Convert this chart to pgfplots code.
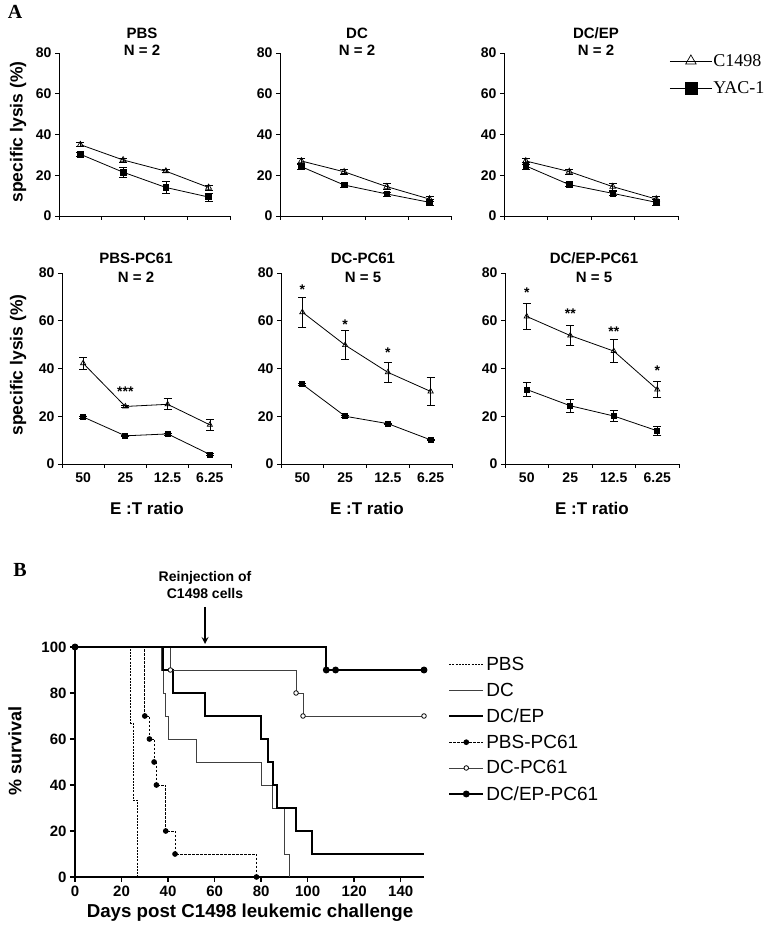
\documentclass[border=0pt]{standalone}
\usepackage{fontspec}
\setmainfont{Liberation Sans}
\newfontfamily\timesfont{Liberation Serif}
\usepackage{pgfplots}
\pgfplotsset{compat=1.18}
\newcommand\fs[1]{\fontsize{#1}{#1}\selectfont}
\pgfplotsset{
 lysis/.style={scale only axis, axis lines*=left, xmin=0, xmax=4, ymin=0, ymax=80,
   ytick={0,20,40,60,80}, xtick={0,1,2,3,4}, xticklabels={}, tick align=outside,
   major tick length=4pt, tick style={black, line width=0.7pt},
   axis line style={black, line width=0.8pt},
   /pgf/number format/assume math mode=true,
   yticklabel style={font=\bfseries\fs{14}},
   xticklabel style={font=\bfseries\fs{14}}, clip=false},
 ratio/.style={extra x ticks={0.5,1.5,2.5,3.5}, extra x tick labels={50,25,12.5,6.25},
   extra x tick style={major tick length=0pt, xticklabel style={yshift=-5pt}}},
 cA/.style={black, line width=0.8pt, mark=triangle, mark size=3.4pt,
   mark options={solid, fill=white, line width=0.7pt},
   error bars/.cd, y dir=both, y explicit, error bar style={line width=0.7pt},
   error mark options={rotate=90, mark size=4pt, line width=0.7pt}, /pgfplots/.cd},
 yA/.style={black, line width=0.8pt, mark=square*, mark size=2.8pt,
   mark options={solid},
   error bars/.cd, y dir=both, y explicit, error bar style={line width=0.7pt},
   error mark options={rotate=90, mark size=4pt, line width=0.7pt}, /pgfplots/.cd},
 km/.style={const plot mark left, black},
}
\begin{document}
\begin{tikzpicture}[x=1pt,y=1pt]
\useasboundingbox (0,0) rectangle (765,935);
% ---------- Panel A top row
\begin{axis}[lysis, at={(59pt,719pt)}, anchor=south west, width=171pt, height=163pt]
\addplot[cA] coordinates {(0.5,35) +- (0,1) (1.5,27.5) +- (0,1) (2.5,22) +- (0,0.8) (3.5,14) +- (0,1.2)};
\addplot[yA] coordinates {(0.5,30.3) +- (0,1) (1.5,21.5) +- (0,2.5) (2.5,14) +- (0,3) (3.5,9.3) +- (0,2)};
\end{axis}
\begin{axis}[lysis, at={(280pt,719pt)}, anchor=south west, width=171pt, height=163pt]
\addplot[cA] coordinates {(0.5,27) +- (0,1.5) (1.5,21.7) +- (0,1.2) (2.5,14.4) +- (0,1.5) (3.5,8.3) +- (0,1.3)};
\addplot[yA] coordinates {(0.5,24.2) +- (0,1.5) (1.5,15.2) +- (0,1) (2.5,10.8) +- (0,1) (3.5,6.7) +- (0,1.5)};
\end{axis}
\begin{axis}[lysis, at={(504pt,719pt)}, anchor=south west, width=174pt, height=163pt,
  legend style={at={(rel axis cs:0.95,1.0)}, anchor=north west, draw=none, fill=none,
  font=\timesfont\fs{18}, row sep=12pt, inner sep=0pt, nodes={inner sep=1pt}},
  legend cell align=left,
  legend image code/.code={\draw[#1, mark size=6pt, mark repeat=2, mark phase=2] plot coordinates {(0pt,0pt) (21pt,0pt) (42pt,0pt)};}]
\addplot[cA] coordinates {(0.5,27) +- (0,1.5) (1.5,21.8) +- (0,1.2) (2.5,14.4) +- (0,1.8) (3.5,8.3) +- (0,1.3)};
\addlegendentry{C1498}
\addplot[yA] coordinates {(0.5,24.6) +- (0,1.5) (1.5,15.4) +- (0,1) (2.5,11.1) +- (0,1) (3.5,6.7) +- (0,1.5)};
\addlegendentry{YAC-1}
\end{axis}
% ---------- Panel A bottom row
\begin{axis}[lysis, ratio, at={(62pt,471pt)}, anchor=south west, width=169pt, height=191pt]
\addplot[cA, mark size=3pt] coordinates {(0.5,42.2) +- (0,2.6) (1.5,24.1) +- (0,0.5) (2.5,25) +- (0,2.3) (3.5,16.4) +- (0,2.4)};
\addplot[yA, mark size=2.5pt] coordinates {(0.5,19.7) +- (0,0.4) (1.5,11.8) +- (0,0.4) (2.5,12.6) +- (0,0.4) (3.5,4) +- (0,0.4)};
\node[font=\bfseries\fs{14}] at (axis cs:1.5,30.3) {***};
\end{axis}
\begin{axis}[lysis, ratio, at={(281pt,471pt)}, anchor=south west, width=171pt, height=191pt]
\addplot[cA, mark size=3pt] coordinates {(0.5,63.6) +- (0,6.4) (1.5,49.8) +- (0,6) (2.5,38.4) +- (0,4.3) (3.5,30.4) +- (0,5.7)};
\addplot[yA, mark size=2.5pt] coordinates {(0.5,33.4) +- (0,0.3) (1.5,20) +- (0,0.3) (2.5,16.9) +- (0,0.3) (3.5,10.1) +- (0,0.3)};
\node[font=\bfseries\fs{14}] at (axis cs:0.5,73.2) {*};
\node[font=\bfseries\fs{14}] at (axis cs:1.5,58.3) {*};
\node[font=\bfseries\fs{14}] at (axis cs:2.5,46.5) {*};
\end{axis}
\begin{axis}[lysis, ratio, at={(505pt,471pt)}, anchor=south west, width=174pt, height=191pt]
\addplot[cA, mark size=3pt] coordinates {(0.5,61.8) +- (0,5.6) (1.5,53.8) +- (0,4.3) (2.5,47.3) +- (0,4.9) (3.5,31.2) +- (0,3.4)};
\addplot[yA, mark size=2.5pt] coordinates {(0.5,31.2) +- (0,2.8) (1.5,24.4) +- (0,2.7) (2.5,20.1) +- (0,2.4) (3.5,13.9) +- (0,1.9)};
\node[font=\bfseries\fs{14}] at (axis cs:0.5,71.7) {*};
\node[font=\bfseries\fs{14}] at (axis cs:1.5,63.1) {**};
\node[font=\bfseries\fs{14}] at (axis cs:2.5,55.6) {**};
\node[font=\bfseries\fs{14}] at (axis cs:3.5,39.1) {*};
\end{axis}
% ---------- Panel B
\begin{axis}[at={(75pt,58pt)}, anchor=south west, scale only axis, width=349pt, height=230pt,
  axis lines*=left, xmin=0, xmax=150, ymin=0, ymax=100, xtick={0,20,...,140}, ytick={0,20,...,100},
  tick align=outside, major tick length=5pt, tick style={black, line width=1.5pt},
  axis line style={black, line width=2pt},
  /pgf/number format/assume math mode=true,
  ticklabel style={font=\bfseries\fs{15}}, clip=false,
  legend style={at={(rel axis cs:1.069,0.966)}, anchor=north west, draw=none, fill=none,
  font=\fs{19}, row sep=7pt, inner sep=0pt},
  legend cell align=left,
  legend image code/.code={\draw[#1, mark repeat=2, mark phase=2] plot coordinates {(0pt,0pt) (17pt,0pt) (34pt,0pt)};}]
\addplot[km, line width=0.7pt, dash pattern=on 2pt off 1.2pt] coordinates {(0,100) (24,66.7) (25,33.3) (27,0)};
\addlegendentry{PBS}
\addplot[km, line width=0.8pt, black!75] coordinates {(0,100) (37,90) (38,80) (39,70) (40,60) (52,50) (80,40) (85,30) (90,10) (92,0)};
\addlegendentry{DC}
\addplot[km, line width=2pt] coordinates {(0,100) (38,90) (42,80) (56,70) (80,60) (83,50) (85,40) (87,30) (95,20) (102,10) (150,10)};
\addlegendentry{DC/EP}
\addplot[km, line width=0.8pt, dash pattern=on 2.5pt off 1.5pt, mark=*, mark size=2.4pt, mark options={solid}] coordinates {(0,100) (30,70) (32,60) (34,50) (35,40) (39,20) (43,10) (78,0)};
\addlegendentry{PBS-PC61}
\addplot[km, line width=0.8pt, black!75, mark=*, mark size=2.3pt, mark options={solid, fill=white, draw=black}] coordinates {(0,100) (41,90) (95,80) (98,70) (150,70)};
\addlegendentry{DC-PC61}
\addplot[km, line width=2pt, mark=*, mark size=2.4pt, mark options={solid}] coordinates {(0,100) (108,90) (112,90) (150,90)};
\addlegendentry{DC/EP-PC61}
\end{axis}
% ---------- Texts
\node[font=\timesfont\bfseries\fs{20}] at (15,923) {A};
\node[font=\timesfont\bfseries\fs{20}] at (20,365) {B};
\node[font=\bfseries\fontsize{15}{17}\selectfont, align=center] at (142,893.5) {PBS\\N = 2};
\node[font=\bfseries\fontsize{15}{17}\selectfont, align=center] at (357,893.5) {DC\\N = 2};
\node[font=\bfseries\fontsize{15}{17}\selectfont, align=center] at (596,893.5) {DC/EP\\N = 2};
\node[font=\bfseries\fontsize{15}{19}\selectfont, align=center] at (136,667.5) {PBS-PC61\\N = 2};
\node[font=\bfseries\fontsize{15}{19}\selectfont, align=center] at (363,667.5) {DC-PC61\\N = 5};
\node[font=\bfseries\fontsize{15}{19}\selectfont, align=center] at (594,667.5) {DC/EP-PC61\\N = 5};
\node[font=\bfseries\fs{17.5}, rotate=90] at (18,803) {specific lysis (\%)};
\node[font=\bfseries\fs{17.5}, rotate=90] at (18,570) {specific lysis (\%)};
\node[font=\bfseries\fs{17}] at (147,427) {E :T ratio};
\node[font=\bfseries\fs{17}] at (367,427) {E :T ratio};
\node[font=\bfseries\fs{17}] at (592,427) {E :T ratio};
\node[font=\bfseries\fontsize{14}{17}\selectfont, align=center] at (205,350.5) {Reinjection of\\C1498 cells};
\draw[line width=2pt, -stealth] (205,328) -- (205,291);
\node[font=\bfseries\fs{18}, rotate=90] at (15,184) {\% survival};
\node[font=\bfseries\fs{18.7}] at (250,22) {Days post C1498 leukemic challenge};
\end{tikzpicture}
\end{document}
